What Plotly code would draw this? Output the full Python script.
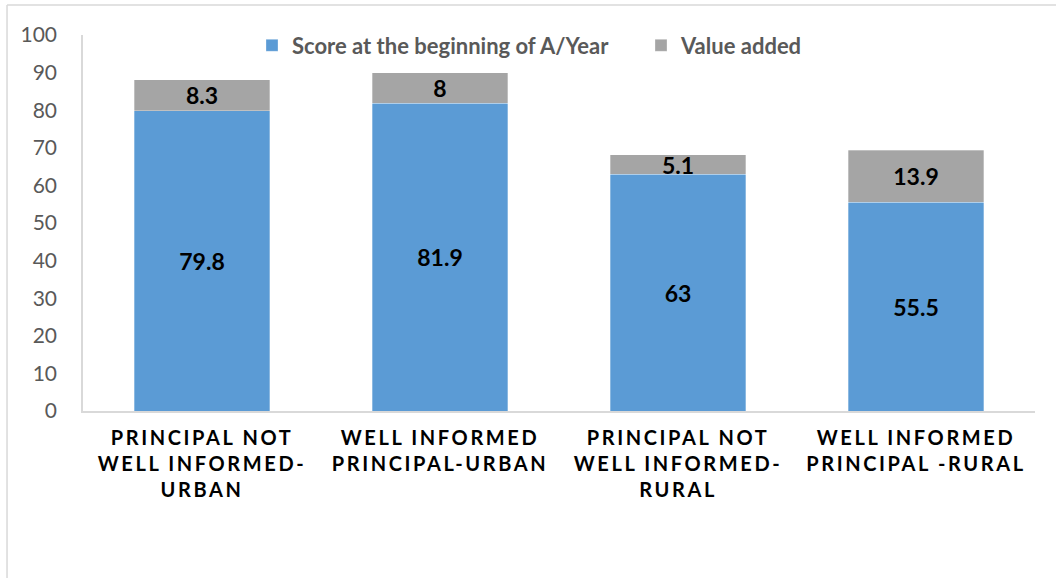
import plotly.graph_objects as go

categories = [
    "PRINCIPAL NOT<br>WELL INFORMED-<br>URBAN",
    "WELL INFORMED<br>PRINCIPAL-URBAN",
    "PRINCIPAL NOT<br>WELL INFORMED-<br>RURAL",
    "WELL INFORMED<br>PRINCIPAL -RURAL",
]
score_begin = [79.8, 81.9, 63, 55.5]
value_added = [8.3, 8, 5.1, 13.9]
series_names = ["Score at the beginning of A/Year", "Value added"]
y_ticks = [0, 10, 20, 30, 40, 50, 60, 70, 80, 90, 100]

FONT = "Lato, 'Open Sans', sans-serif"
BLUE = "#5B9BD5"
GRAY = "#A5A5A5"

fig = go.Figure()
for name, vals, color in [(series_names[0], score_begin, BLUE), (series_names[1], value_added, GRAY)]:
    fig.add_trace(go.Bar(
        x=categories, y=vals, name=name,
        marker=dict(color=color, line=dict(color="rgba(255,255,255,0.6)", width=0.5)),
        text=[f"{v:g}" for v in vals],
        textposition="inside", insidetextanchor="middle", textangle=0,
        constraintext="none", cliponaxis=False,
        textfont=dict(family=FONT, size=23, color="#000000", weight="bold"),
        hoverinfo="skip",
    ))

fig.update_layout(
    barmode="stack",
    bargap=0.43,
    width=1056, height=578,
    margin=dict(l=83, r=21, t=35, b=167),
    paper_bgcolor="white", plot_bgcolor="white",
    font=dict(family=FONT),
    showlegend=True,
    legend=dict(
        orientation="h", x=(252 - 83) / 952, xanchor="left", y=0.972, yanchor="middle",
        font=dict(family=FONT, size=22, color="#595959", weight="bold"),
        bgcolor="rgba(0,0,0,0)", traceorder="normal",
        itemclick=False, entrywidth=344, entrywidthmode="pixels",
    ),
    xaxis=dict(
        showline=True, linecolor="#D9D9D9", linewidth=1.5,
        showgrid=False, ticks="", zeroline=False,
        tickfont=dict(family=FONT, size=20, color="#000000", weight="bold"),
        ticklabelstandoff=8,
    ),
    yaxis=dict(
        range=[0, 100], tickvals=y_ticks,
        showline=True, linecolor="#D9D9D9", linewidth=1.5,
        showgrid=False, ticks="", zeroline=False,
        tickfont=dict(family=FONT, size=21, color="#595959"),
        ticklabelstandoff=20,
    ),
    shapes=[
        dict(type="line", xref="paper", yref="paper", x0=-0.0798, x1=1.05, y0=1.0797, y1=1.0797,
             line=dict(color="#D9D9D9", width=1.5)),
        dict(type="line", xref="paper", yref="paper", x0=-0.0798, x1=-0.0798, y0=1.0797, y1=-0.5,
             line=dict(color="#D9D9D9", width=1.5)),
    ],
)

post = """
document.body.style.margin='0';
var s=document.createElement('style');
s.innerHTML='body{margin:0;} .xtick text{letter-spacing:2.6px;}';
document.head.appendChild(s);
"""
fig.write_html("out.html", post_script=post, config={"displayModeBar": False})
